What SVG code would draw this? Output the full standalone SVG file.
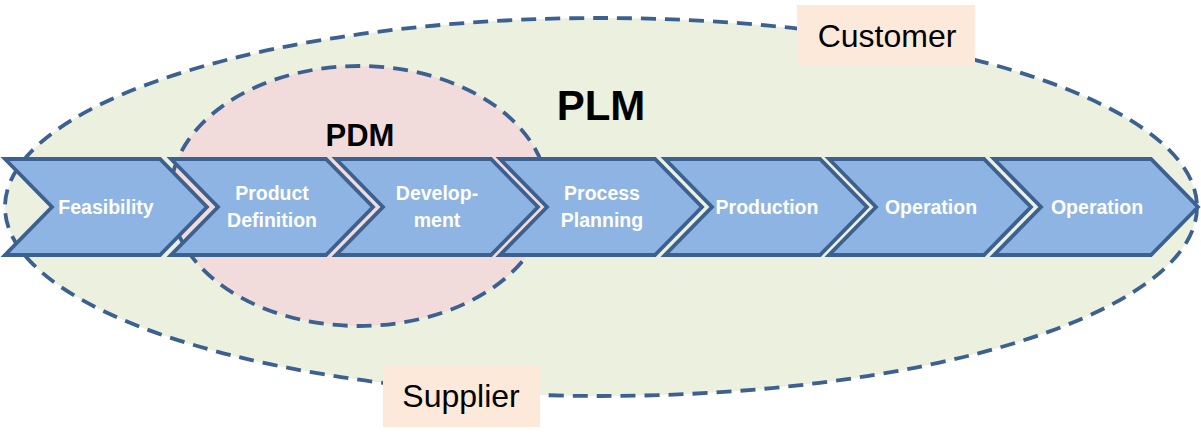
<svg xmlns="http://www.w3.org/2000/svg" width="1201" height="442" viewBox="0 0 1201 442">
<style>
.ell{stroke:#3C6190;stroke-width:3.8;stroke-dasharray:15 9}
.chev{fill:#8EB4E3;stroke:#3C6190;stroke-width:3.8;stroke-linejoin:miter}
.lbl{font-family:"Liberation Sans",Arial,sans-serif;font-weight:bold;font-size:19.5px;fill:#ffffff;text-anchor:middle}
.big{font-family:"Liberation Sans",Arial,sans-serif;font-weight:bold;fill:#000;text-anchor:middle}
.tag{fill:#FDE9D9}
.tagt{font-family:"Liberation Sans",Arial,sans-serif;font-size:32px;fill:#000;text-anchor:middle}
</style>
<rect width="1201" height="442" fill="#ffffff"/>
<g id="plm">
<ellipse class="ell" cx="601" cy="207" rx="596" ry="189" fill="#EBF0DF"/>
<text class="big" x="601" y="120" font-size="42">PLM</text>
</g>
<g id="pdm">
<ellipse class="ell" cx="359" cy="196" rx="189" ry="130" fill="#F2DCDB"/>
<text class="big" x="360" y="146" font-size="31">PDM</text>
</g>
<g id="connectors"></g>
<g id="feasibility">
<polygon class="chev" points="5,159 160,159 207,207 160,255 5,255 52,207"/>
<text class="lbl" x="106" y="214">Feasibility</text>
</g>
<g id="product-definition">
<polygon class="chev" points="171,159 326,159 373,207 326,255 171,255 218,207"/>
<text class="lbl" x="272" y="200">Product</text>
<text class="lbl" x="272" y="227">Definition</text>
</g>
<g id="development">
<polygon class="chev" points="336,159 491,159 538,207 491,255 336,255 383,207"/>
<text class="lbl" x="437" y="200">Develop-</text>
<text class="lbl" x="437" y="227">ment</text>
</g>
<g id="process-planning">
<polygon class="chev" points="500,159 655,159 702,207 655,255 500,255 547,207"/>
<text class="lbl" x="602" y="200">Process</text>
<text class="lbl" x="602" y="227">Planning</text>
</g>
<g id="production">
<polygon class="chev" points="665,159 820,159 867,207 820,255 665,255 712,207"/>
<text class="lbl" x="767" y="214">Production</text>
</g>
<g id="operation-1">
<polygon class="chev" points="829,159 984,159 1031,207 984,255 829,255 876,207"/>
<text class="lbl" x="931" y="214">Operation</text>
</g>
<g id="operation-2">
<polygon class="chev" points="994,159 1151,159 1198,207 1151,255 994,255 1041,207"/>
<text class="lbl" x="1097" y="214">Operation</text>
</g>
<g id="customer">
<rect class="tag" x="797" y="5" width="178" height="60"/>
<text class="tagt" x="887" y="47">Customer</text>
</g>
<g id="supplier">
<rect class="tag" x="383" y="365" width="157" height="62"/>
<text class="tagt" x="461" y="407">Supplier</text>
</g>
</svg>
